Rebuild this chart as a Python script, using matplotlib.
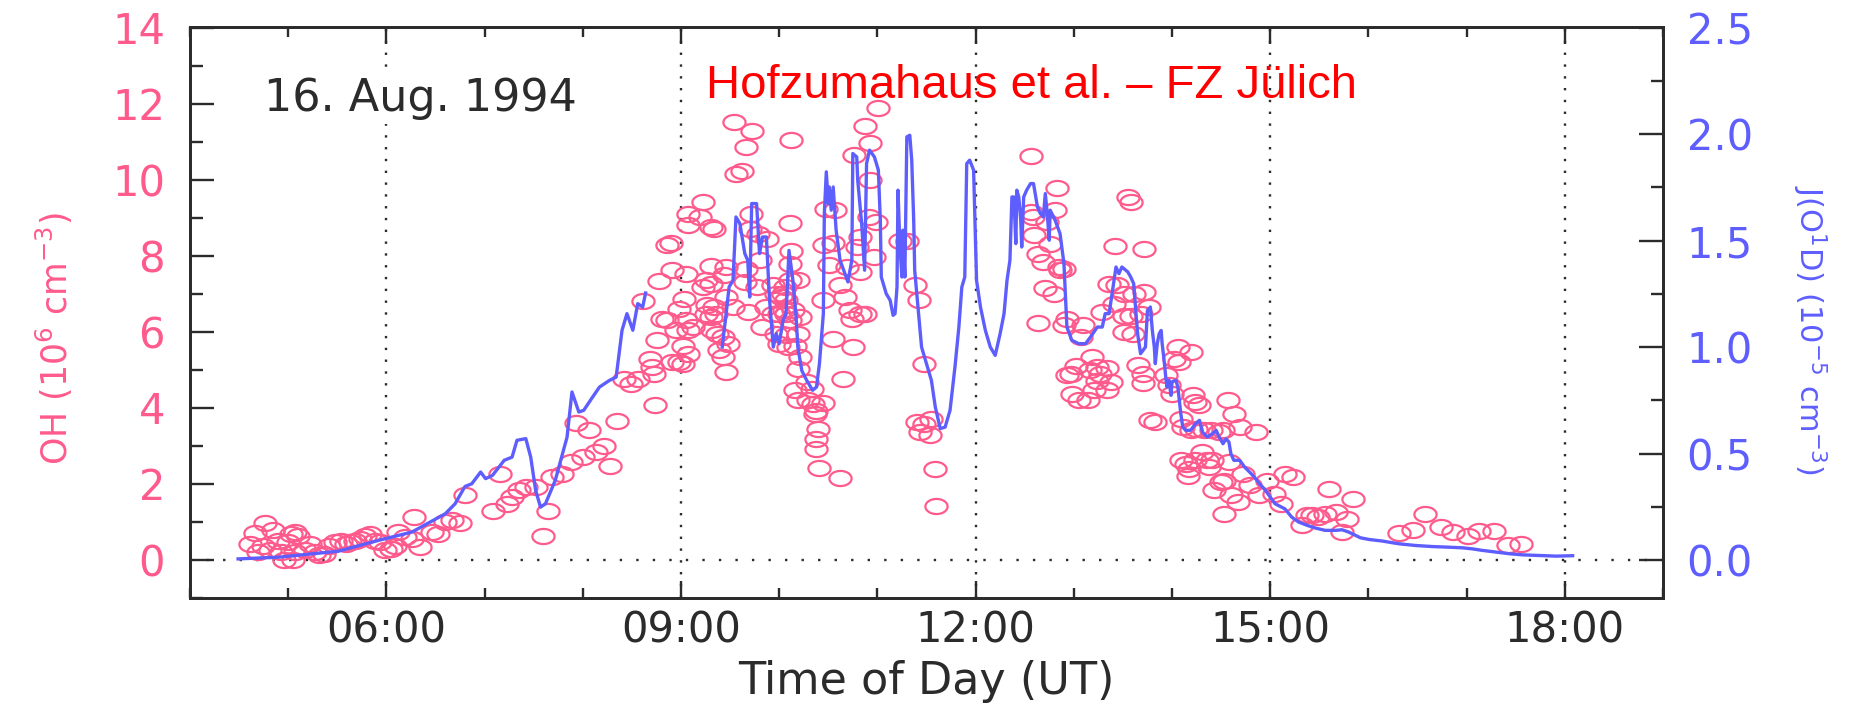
import numpy as np
import matplotlib.pyplot as plt
from matplotlib.ticker import MultipleLocator, FuncFormatter

# J(O1D) trace, hours UT and 1e-5 units (nan = gap in the record)
j_hour = [4.49, 4.90, 5.51, 5.92, 6.26, 6.60, 6.70, 6.80, 6.87, 6.96, 7.01, 7.08, 7.20, 7.28,
          7.33, 7.42, 7.47, 7.52, 7.57, 7.62, 7.72, 7.84, 7.89, 7.96, 8.01, 8.10, 8.17, 8.27,
          8.34, 8.37, 8.40, 8.45, 8.51, 8.56, 8.61, 8.64, 9.00,
          9.42, 9.46, 9.49, 9.53, 9.56, 9.60, 9.65, 9.68, 9.70, 9.72, 9.77, 9.80, 9.83, 9.87,
          9.90, 9.94, 9.97, 10.00, 10.04, 10.07, 10.10, 10.14, 10.17, 10.19, 10.23, 10.28, 10.34,
          10.38, 10.41, 10.45, 10.46, 10.48, 10.50, 10.51, 10.53, 10.55, 10.58, 10.62, 10.67,
          10.70, 10.74, 10.75, 10.79, 10.80, 10.84, 10.87, 10.89, 10.92, 10.97, 11.01, 11.03,
          11.04, 11.09, 11.13, 11.16, 11.18, 11.20, 11.21, 11.23, 11.25, 11.26, 11.28, 11.30,
          11.33, 11.35, 11.37, 11.38, 11.42, 11.45, 11.49, 11.52, 11.55, 11.59, 11.64, 11.69,
          11.74, 11.79, 11.83, 11.86, 11.89, 11.91, 11.94, 11.98, 12.01, 12.05, 12.10, 12.15,
          12.20, 12.25, 12.29, 12.32, 12.35, 12.37, 12.39, 12.41, 12.42, 12.44, 12.46, 12.47,
          12.49, 12.52, 12.56, 12.59, 12.63, 12.66, 12.69, 12.71, 12.73, 12.75, 12.76, 12.81,
          12.86, 12.90, 12.93, 12.98, 13.05, 13.12, 13.17, 13.24, 13.29, 13.32, 13.36, 13.39,
          13.43, 13.46, 13.49, 13.55, 13.58, 13.61, 13.65, 13.68, 13.73, 13.75, 13.78, 13.80,
          13.82, 13.83, 13.85, 13.87, 13.89, 13.90, 13.92, 13.94, 13.95, 13.97, 13.99, 14.00,
          14.04, 14.06, 14.09, 14.11, 14.14, 14.19, 14.24, 14.28, 14.31, 14.36, 14.41, 14.45,
          14.48, 14.52, 14.55, 14.58, 14.60, 14.63, 14.69, 14.74, 14.79, 14.84, 14.89, 14.94,
          15.05, 15.15, 15.22, 15.29, 15.38, 15.46, 15.56, 15.67, 15.73, 15.80, 15.87, 15.92,
          16.01, 16.14, 16.31, 16.48, 16.65, 16.82, 16.96, 17.06, 17.16, 17.30, 17.44, 17.57,
          17.74, 17.91, 18.08]
j_val = [0.005, 0.013, 0.041, 0.092, 0.131, 0.217, 0.264, 0.345, 0.358, 0.413, 0.382, 0.397,
         0.468, 0.483, 0.562, 0.570, 0.483, 0.327, 0.248, 0.264, 0.374, 0.577, 0.789, 0.695,
         0.703, 0.765, 0.812, 0.843, 0.859, 0.969, 1.079, 1.157, 1.079, 1.204, 1.188, 1.254, np.nan,
         1.000, 1.157, 1.282, 1.313, 1.611, 1.580, 1.439, 1.407, 1.235, 1.674, 1.674, 1.439,
         1.517, 1.517, 1.235, 1.000, 1.063, 1.016, 1.125, 1.157, 1.454, 1.313, 1.157, 1.000,
         0.890, 0.844, 0.797, 0.812, 0.922, 1.157, 1.627, 1.823, 1.674, 1.752, 1.643, 1.752,
         1.549, 1.408, 1.345, 1.306, 1.408, 1.909, 1.893, 1.783, 1.580, 1.361, 1.862, 1.925,
         1.893, 1.831, 1.596, 1.329, 1.251, 1.220, 1.149, 1.157, 1.282, 1.737, 1.470, 1.329,
         1.549, 1.329, 1.987, 1.995, 1.878, 1.596, 1.361, 1.157, 1.000, 0.937, 0.890, 0.844,
         0.718, 0.617, 0.624, 0.703, 0.906, 1.094, 1.282, 1.329, 1.862, 1.878, 1.831, 1.313,
         1.188, 1.078, 1.000, 0.961, 1.063, 1.157, 1.313, 1.408, 1.705, 1.705, 1.486, 1.737,
         1.705, 1.596, 1.470, 1.705, 1.737, 1.768, 1.768, 1.658, 1.627, 1.611, 1.721, 1.627,
         1.502, 1.643, 1.596, 1.533, 1.392, 1.094, 1.032, 1.016, 1.016, 1.047, 1.094, 1.094,
         1.157, 1.157, 1.251, 1.376, 1.345, 1.376, 1.353, 1.329, 1.298, 1.063, 0.969, 1.000,
         1.172, 1.188, 1.078, 1.000, 0.922, 1.016, 1.063, 1.078, 1.016, 0.937, 0.844, 0.812,
         0.844, 0.773, 0.836, 0.844, 0.812, 0.687, 0.624, 0.609, 0.609, 0.640, 0.656, 0.601,
         0.577, 0.593, 0.609, 0.577, 0.546, 0.569, 0.554, 0.499, 0.468, 0.468, 0.436, 0.413,
         0.389, 0.358, 0.334, 0.264, 0.240, 0.201, 0.178, 0.162, 0.150, 0.139, 0.139, 0.142,
         0.131, 0.115, 0.104, 0.096, 0.089, 0.076, 0.068, 0.063, 0.060, 0.057, 0.052, 0.045,
         0.037, 0.029, 0.024, 0.021, 0.018, 0.020]

# OH measurements, hours UT and 1e6 cm-3
oh_hour = [4.76, 4.66, 4.85, 4.61, 4.74, 4.90, 4.69, 4.81, 5.03, 5.07, 5.10, 5.00, 4.93, 4.96,
           5.05, 5.07, 5.17, 5.22, 5.27, 5.31, 5.37, 5.42, 5.48, 5.54, 5.59, 5.63, 5.68, 5.73,
           5.78, 5.83, 5.88, 5.94, 5.99, 6.05, 6.09, 6.12, 6.19, 6.26, 6.28, 6.34, 6.46, 6.53,
           6.60, 6.67, 6.75, 6.80, 7.09, 7.16, 7.23, 7.28, 7.35, 7.42, 7.52, 7.59, 7.65, 7.69,
           7.79, 7.88, 7.93, 8.00, 8.06, 8.13, 8.22, 8.28, 8.35, 8.42, 8.49, 8.56, 8.68, 8.71,
           8.73, 8.76, 8.74, 8.78, 8.81, 8.86, 8.86, 8.90, 8.91, 8.91, 8.98, 9.02, 9.05, 9.03,
           8.98, 9.05, 9.07, 8.95, 9.02, 9.12, 9.07, 8.61,
           9.54, 9.72, 9.66, 10.12, 9.56, 9.62, 9.22, 9.07, 9.19, 9.07, 9.31, 9.34, 10.11, 9.31,
           9.46, 9.25, 9.31, 9.22, 9.44, 9.66, 9.80, 10.11, 10.12, 10.19, 10.11, 10.06, 9.94,
           9.97, 10.02, 9.87, 9.27, 9.34, 9.46, 9.53, 9.68, 9.25, 9.31, 9.36, 9.83, 9.94, 10.00,
           10.07, 10.11, 9.32, 9.37, 9.43, 9.48, 9.39, 9.43, 9.46, 9.97, 10.07, 10.19, 10.16,
           10.19, 9.65, 9.77, 9.70, 9.78, 9.88, 9.71,
           11.01, 10.87, 10.92, 10.76, 10.92, 10.48, 10.57, 10.91, 10.99, 10.46, 10.55, 10.79,
           10.82, 11.23, 11.30, 10.97, 10.51, 10.82, 10.69, 10.62, 10.67, 10.45, 10.72, 10.74,
           10.82, 10.87, 11.38, 11.42, 10.55, 10.75, 11.47, 10.65, 10.21, 10.19, 10.16, 10.21,
           10.07, 10.14, 10.28, 10.33, 10.29, 10.34, 10.38, 10.45, 10.36, 10.40, 10.38, 10.38,
           10.41, 10.62, 11.40, 11.47, 11.55, 11.43, 11.54, 11.59, 11.60, 10.04, 10.05, 10.00,
           10.09,
           12.56, 12.83, 13.55, 13.58, 12.81, 12.56, 12.58, 12.73, 12.59, 12.76, 13.42, 13.72,
           12.64, 12.69, 12.85, 12.90, 12.86, 12.71, 12.80, 13.36, 13.44, 13.51, 13.61, 13.72,
           13.41, 13.29, 13.51, 13.58, 13.68, 12.64, 12.93, 12.90, 13.09, 13.51, 13.60, 13.07,
           13.19, 13.02, 12.97, 12.93, 13.17, 13.24, 13.34, 13.27, 13.24, 13.38, 12.98, 13.05,
           13.14, 13.21, 13.34, 13.65, 13.70, 13.70, 13.78,
           13.77, 14.06, 14.19, 14.02, 14.07, 13.83, 13.94, 13.97, 14.00, 14.21, 14.23, 14.28,
           14.57, 14.63, 14.69, 14.86, 14.09, 14.11, 14.19, 14.24, 14.33, 14.40, 14.48, 14.52,
           14.58, 14.09, 14.14, 14.17, 14.23, 14.31, 14.36, 14.38, 14.41, 14.16, 14.43, 14.50,
           14.53, 14.60, 14.67, 14.72, 14.79, 14.89, 14.97, 15.04, 15.11, 15.15, 15.23, 14.53,
           15.32, 15.38,
           15.60, 15.84, 15.43, 15.49, 15.56, 15.67, 15.78, 15.73, 16.31, 16.45, 16.58, 16.74,
           16.86, 17.01, 17.13, 17.28, 17.42, 17.55]
oh_val = [0.97, 0.71, 0.78, 0.43, 0.38, 0.51, 0.21, 0.25, 0.69, 0.73, 0.64, 0.47, 0.21, -0.01,
          -0.01, 0.21, 0.25, 0.43, 0.21, 0.12, 0.16, 0.38, 0.47, 0.51, 0.43, 0.47, 0.51, 0.56,
          0.64, 0.69, 0.51, 0.47, 0.25, 0.29, 0.38, 0.73, 0.60, 0.56, 1.13, 0.34, 0.73, 0.69,
          1.00, 1.04, 0.97, 1.70, 1.30, 2.27, 1.48, 1.65, 1.83, 1.92, 1.92, 0.62, 1.30, 2.18,
          2.27, 2.57, 3.60, 2.71, 3.41, 2.84, 2.99, 2.46, 3.65, 4.77, 4.64, 4.77, 5.29, 5.07,
          4.88, 5.79, 4.07, 7.34, 6.35, 6.31, 8.28, 8.34, 7.64, 5.21, 5.21, 5.16, 7.53, 6.87,
          6.60, 6.30, 6.04, 6.04, 5.64, 6.13, 5.43, 6.81,
          11.52, 11.28, 10.86, 11.04, 10.16, 10.23, 9.42, 9.11, 9.02, 8.80, 8.76, 8.71, 8.86,
          7.72, 7.71, 7.36, 7.27, 7.18, 7.49, 7.66, 7.88, 7.79, 8.14, 7.36, 7.36, 7.18, 7.22,
          7.00, 6.92, 6.65, 6.70, 6.65, 6.92, 6.65, 6.52, 6.48, 6.39, 6.48, 6.13, 6.48, 6.48,
          6.48, 6.30, 6.04, 5.95, 5.86, 5.69, 5.51, 5.34, 4.94, 5.95, 5.91, 5.95, 4.46, 4.20,
          7.31, 7.18, 8.71, 8.58, 8.45, 9.11,
          11.90, 11.41, 10.97, 10.64, 9.99, 9.24, 9.20, 9.02, 8.89, 8.28, 8.34, 8.23, 8.50,
          8.38, 8.38, 7.97, 7.75, 7.57, 7.71, 7.22, 6.92, 6.85, 6.57, 6.35, 6.48, 6.48, 7.22,
          6.83, 5.82, 5.60, 5.16, 4.77, 5.34, 5.03, 5.64, 6.39, 6.83, 6.57, 4.68, 4.50, 4.20,
          4.11, 3.93, 4.13, 3.85, 3.45, 3.19, 2.93, 2.42, 2.16, 3.63, 3.58, 3.71, 3.36, 3.30,
          2.40, 1.41, 7.00, 6.57, 5.69, 5.60,
          10.62, 9.79, 9.55, 9.42, 9.20, 9.15, 9.02, 8.89, 8.54, 8.32, 8.25, 8.19, 8.06, 7.84,
          7.71, 7.66, 7.62, 7.16, 7.00, 7.25, 7.22, 7.00, 7.00, 7.05, 6.74, 6.52, 6.43, 6.43,
          6.48, 6.23, 6.35, 6.17, 6.17, 5.99, 5.95, 5.86, 5.34, 5.09, 4.90, 4.86, 4.99, 5.08,
          5.06, 4.90, 4.72, 4.68, 4.37, 4.20, 4.20, 4.46, 4.46, 5.12, 4.90, 4.65, 3.67,
          6.65, 5.60, 5.47, 5.29, 5.21, 3.63, 4.86, 4.59, 4.37, 4.33, 4.15, 4.07, 4.20, 3.85,
          3.50, 3.36, 3.72, 3.50, 3.41, 3.45, 3.41, 3.41, 3.36, 3.41, 2.57, 2.62, 2.53, 2.40,
          2.62, 2.84, 2.62, 2.44, 2.62, 2.22, 1.83, 2.05, 2.09, 1.70, 1.52, 2.27, 1.96, 1.70,
          2.09, 1.74, 1.48, 2.27, 2.18, 1.22, 0.91, 1.17,
          1.86, 1.61, 1.17, 1.13, 1.21, 1.26, 1.08, 0.73, 0.72, 0.78, 1.21, 0.86, 0.73, 0.62,
          0.76, 0.75, 0.40, 0.43]

hour_ticks = [6, 9, 12, 15, 18]

plt.rcParams['font.family'] = 'DejaVu Sans'
plt.rcParams['mathtext.default'] = 'regular'

pink = '#ff5a8c'
blue = '#5e5eff'
dark = '#2b2b2b'

fig = plt.figure(figsize=(18.66, 7.04), dpi=100)
ax = fig.add_axes([0.1018, 0.1506, 0.7894, 0.8111])
ax2 = ax.twinx()

# the original is stretched sideways, so the circles are drawn as ellipses
t = np.linspace(0, 2 * np.pi, 60)
ellipse = np.column_stack([np.cos(t), 0.68 * np.sin(t)])

ax.plot(oh_hour, oh_val, ls='none', marker=ellipse, ms=16,
        mfc='none', mec=pink, mew=1.6, zorder=3)
ax2.plot(j_hour, j_val, color=blue, lw=2.4)

ax.set_xlim(4, 19)
ax.set_ylim(-1, 14.02)
ax2.set_ylim(-1 / 5.6, 14.02 / 5.6)

ax.set_xticks(hour_ticks)
ax.xaxis.set_minor_locator(MultipleLocator(1))
ax.xaxis.set_major_formatter(FuncFormatter(lambda v, p: '%02d:00' % int(v)))
ax.yaxis.set_major_locator(MultipleLocator(2))
ax.yaxis.set_minor_locator(MultipleLocator(1))
ax2.yaxis.set_major_locator(MultipleLocator(0.5))
ax2.yaxis.set_minor_locator(MultipleLocator(0.25))
ax2.yaxis.set_major_formatter(FuncFormatter(lambda v, p: '%.1f' % v))

ax.tick_params(axis='x', which='both', direction='in', top=True, bottom=True,
               width=1.7, color=dark, labelsize=30, labelcolor=dark, pad=8)
ax.tick_params(axis='x', which='major', length=12)
ax.tick_params(axis='x', which='minor', length=7)
ax.tick_params(axis='y', which='both', direction='in', left=True, right=False,
               width=1.7, color=dark, labelsize=30, labelcolor=pink, pad=18)
ax.tick_params(axis='y', which='major', length=17)
ax.tick_params(axis='y', which='minor', length=9)
ax2.tick_params(axis='y', which='both', direction='in', right=True, left=False,
                width=1.7, color=dark, labelsize=30, labelcolor=blue, pad=17)
ax2.tick_params(axis='y', which='major', length=17)
ax2.tick_params(axis='y', which='minor', length=9)

for a in (ax, ax2):
    for s in a.spines.values():
        s.set_linewidth(2.0)
        s.set_color(dark)

ax.grid(axis='x', which='major', color=dark, ls=(0, (1, 4)), lw=1.7)
ax.axhline(0, color=dark, ls=(0, (1, 6)), lw=1.7)

ax.text(4.75, 11.81, '16. Aug. 1994', fontsize=32, color=dark, va='baseline',
        bbox=dict(fc='white', ec='none', pad=3), zorder=4)
ax.text(9.25, 12.14, 'Hofzumahaus et al. \u2013 FZ J\u00fclich', family='Liberation Sans',
        fontsize=34, color='red', va='baseline', zorder=5)

ax.set_xlabel('Time of Day (UT)', fontsize=32, color=dark, va='baseline')
ax.xaxis.set_label_coords(0.5, -0.168)
ax.set_ylabel('OH (10$^6$ cm$^{-3}$)', fontsize=25, color=pink)
ax.yaxis.set_label_coords(-0.078, 0.454)
ax2.set_ylabel('J(O$^1$D) (10$^{-5}$ cm$^{-3}$)', fontsize=22, color=blue,
               rotation=270, va='bottom')
ax2.yaxis.set_label_coords(1.086, 0.469)

fig.savefig('out.png', dpi=100)
